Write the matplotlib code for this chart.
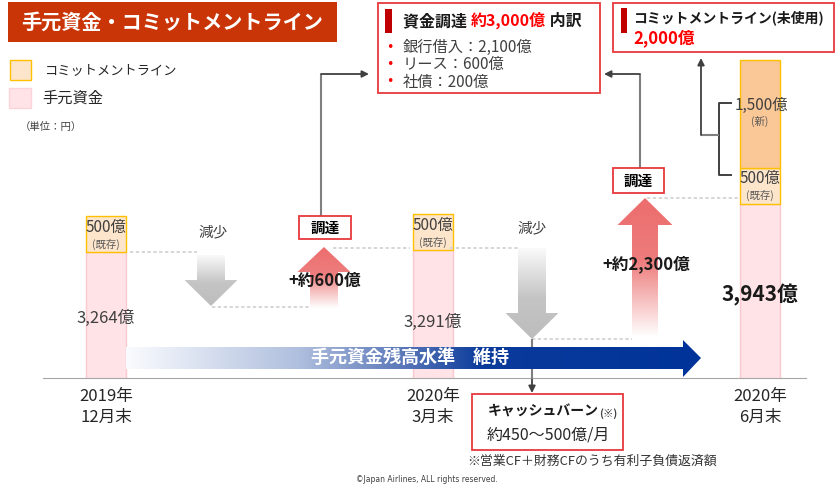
#!/usr/bin/env python3

import numpy as np
import matplotlib
matplotlib.use('Agg')
import matplotlib.pyplot as plt
from matplotlib.patches import Rectangle, Polygon
from matplotlib.colors import LinearSegmentedColormap

plt.rcParams['font.family'] = ['Noto Sans CJK JP', 'DejaVu Sans']

# ---- data (億円) ----
periods = ['2019年\n12月末', '2020年\n3月末', '2020年\n6月末']
cash = [3264, 3291, 3943]            # 手元資金
commit_existing = [500, 500, 500]    # コミットメントライン(既存)
commit_new = [0, 0, 1500]            # コミットメントライン(新)
raised = [600, 2300]                 # 調達
funding_items = ['銀行借入', 'リース', '社債']
funding_values = [2100, 600, 200]
funding_total = 3000
commit_unused = 2000
burn_range = [450, 500]

PINK = '#FFE3E7'
PINK_EDGE = '#FAC9D0'
PEACH = '#FDE5CC'
ORANGE = '#FAC796'
GOLD = '#FFC000'
RED = '#E8383D'
LINE = '#7F7F7F'

Y0 = 1520        # value that sits on the axis line (broken scale)
SCALE = 0.072    # pixels per 億


def gradient_shape(ax, pts, stops, colors, vertical=True, z=3):
    poly = Polygon(pts, closed=True, fc='none', ec='none')
    ax.add_patch(poly)
    xs = [p[0] for p in pts]
    ys = [p[1] for p in pts]
    cmap = LinearSegmentedColormap.from_list('g', list(zip(stops, colors)))
    g = np.linspace(0, 1, 256)
    img = g.reshape(-1, 1) if vertical else g.reshape(1, -1)
    im = ax.imshow(img, cmap=cmap, extent=(min(xs), max(xs), max(ys), min(ys)),
                   origin='upper', aspect='auto', interpolation='bicubic',
                   zorder=z)
    im.set_clip_path(poly)


def up_arrow(cx, tip, head_base, bottom, body_w, head_w):
    return [(cx, tip), (cx + head_w/2, head_base), (cx + body_w/2, head_base),
            (cx + body_w/2, bottom), (cx - body_w/2, bottom),
            (cx - body_w/2, head_base), (cx - head_w/2, head_base)]


def down_arrow(cx, top, head_base, tip, body_w, head_w):
    return [(cx - body_w/2, top), (cx + body_w/2, top), (cx + body_w/2, head_base),
            (cx + head_w/2, head_base), (cx, tip), (cx - head_w/2, head_base),
            (cx - body_w/2, head_base)]


def boxed(ax, x, y, w, h, ec=RED, lw=1.3):
    ax.add_patch(Rectangle((x, y), w, h, fc='white', ec=ec, lw=lw, zorder=4))


def arrow_line(ax, pts):
    xs = [p[0] for p in pts[:-1]]
    ys = [p[1] for p in pts[:-1]]
    ax.plot(xs, ys, color=LINE, lw=1.5, zorder=2, solid_capstyle='butt')
    ax.annotate('', xy=pts[-1], xytext=pts[-2],
                arrowprops=dict(arrowstyle='-|>', color='#404040', lw=1.3,
                                mutation_scale=10, shrinkA=0, shrinkB=0),
                zorder=2)


fig = plt.figure(figsize=(8.37, 4.84), dpi=100)

# ---- bars ----
bax = fig.add_axes([43/837, 106/484, 763/837, 378/484])
x = np.arange(len(periods))
w = 0.125
bax.bar(x, cash, w, color=PINK, edgecolor=PINK_EDGE, lw=1)
bax.bar(x, commit_existing, w, bottom=cash, color=PEACH, edgecolor=GOLD, lw=1)
new_idx = [i for i, v in enumerate(commit_new) if v > 0]
bax.bar(x[new_idx], [commit_new[i] for i in new_idx], w,
        bottom=[cash[i] + commit_existing[i] for i in new_idx],
        color=ORANGE, edgecolor=GOLD, lw=1)
bax.set_xlim(-63/327, 700/327)
bax.set_ylim(Y0, Y0 + 378/SCALE)
for s in ['top', 'left', 'right']:
    bax.spines[s].set_visible(False)
bax.spines['bottom'].set_color('#A6A6A6')
bax.set_yticks([])
bax.set_xticks(x)
bax.set_xticklabels(periods, fontsize=12, color='#262626', linespacing=1.35)
bax.tick_params(axis='x', length=0, pad=7)
bax.patch.set_visible(False)

for i in x:
    top = cash[i]
    mid = (Y0 + cash[i]) / 2
    if i == len(x) - 1:
        bax.annotate(f'{cash[i]:,}億', (i, mid), xytext=(0, -3),
                     textcoords='offset points', ha='center', va='center',
                     fontsize=15, fontweight='bold', color='#1A1A1A')
    else:
        bax.annotate(f'{cash[i]:,}億', (i, mid), xytext=(0, -2 - 4*i),
                     textcoords='offset points', ha='center', va='center',
                     fontsize=12, color='#404040')
    seg = top + commit_existing[i] / 2
    bax.annotate(f'{commit_existing[i]:,}億', (i, seg), xytext=(0, 5),
                 textcoords='offset points', ha='center', va='center',
                 fontsize=11, color='#404040')
    bax.annotate('(既存)', (i, seg), xytext=(0, -7),
                 textcoords='offset points', ha='center', va='center',
                 fontsize=7.5, color='#595959')
    if commit_new[i] > 0:
        seg = top + commit_existing[i] + commit_new[i] / 2
        bax.annotate(f'{commit_new[i]:,}億', (i, seg), xytext=(1, 6),
                     textcoords='offset points', ha='center', va='center',
                     fontsize=11, color='#404040')
        bax.annotate('(新)', (i, seg), xytext=(0, -6),
                     textcoords='offset points', ha='center', va='center',
                     fontsize=7.5, color='#595959')

# ---- overlay in pixel coordinates ----
ax = fig.add_axes([0, 0, 1, 1])
ax.patch.set_visible(False)
ax.axis('off')

# title
ax.add_patch(Rectangle((8, 2), 329, 40, fc='#CA3508', ec='none'))
ax.text(172, 22, '手元資金・コミットメントライン', color='white', fontsize=14.5,
        fontweight='bold', ha='center', va='center')

# legend
ax.add_patch(Rectangle((10, 60), 21, 20, fc=PEACH, ec=GOLD, lw=1))
ax.text(45, 71, 'コミットメントライン', fontsize=9.5, color='#262626', va='center')
ax.add_patch(Rectangle((9, 88), 22, 20, fc=PINK, ec='#FBD3D9', lw=1))
ax.text(42, 98, '手元資金', fontsize=11, color='#262626', va='center')
ax.text(20, 127, '（単位：円）', fontsize=7.5, color='#404040', va='center')

# dotted guide lines
guide = dict(color='#D0D0D0', lw=1.2, ls=(0, (2, 1.5)), zorder=1)
ax.plot([130, 197], [252, 252], **guide)
ax.plot([212, 312], [307, 307], **guide)
ax.plot([333, 410], [248, 248], **guide)
ax.plot([450, 518], [248, 248], **guide)
ax.plot([532, 632], [339, 339], **guide)
ax.plot([647, 740], [198, 198], **guide)

# blue trend arrow
blue = [(126, 347), (683, 347), (683, 340), (701, 358), (683, 377),
        (683, 369), (126, 369)]
gradient_shape(ax, blue, [0, 0.3, 0.48, 0.62, 1],
               ['#FAFBFE', '#AFBFDE', '#5B78B9', '#0B3B9B', '#003399'],
               vertical=False, z=3)
ax.text(410, 357, '手元資金残高水準　維持', color='white', fontsize=13,
        fontweight='bold', ha='center', va='center', zorder=5)

# gray decrease arrows
gray_stops = [0, 0.55, 1]
gray_cols = ['#FAFAFA', '#C4C4C4', '#BDBDBD']
gradient_shape(ax, down_arrow(211, 255, 280, 306, 28, 53), gray_stops, gray_cols)
gradient_shape(ax, down_arrow(532, 248, 313, 339, 28, 53), gray_stops, gray_cols)
ax.text(213, 232, '減少', fontsize=10.5, color='#404040', ha='center', va='center')
ax.text(532, 228, '減少', fontsize=10.5, color='#404040', ha='center', va='center')

# red raise arrows
gradient_shape(ax, up_arrow(324, 247, 272, 308, 28, 53), [0, 0.45, 1],
               ['#EC6D6D', '#EE7E7E', '#FFFFFF'])
gradient_shape(ax, up_arrow(645, 198, 225, 337, 26, 55), [0, 0.45, 1],
               ['#EC6D6D', '#EE7C7C', '#FFFFFF'])
ax.text(325, 281, f'+約{raised[0]:,}億', fontsize=12, fontweight='bold',
        color='#1A1A1A', ha='center', va='center', zorder=5)
ax.text(646, 264, f'+約{raised[1]:,}億', fontsize=12, fontweight='bold',
        color='#1A1A1A', ha='center', va='center', zorder=5)

# 調達 labels and connectors
boxed(ax, 299, 216, 52, 23)
ax.text(325, 227.5, '調達', fontsize=10.5, fontweight='bold', ha='center',
        va='center', zorder=5)
boxed(ax, 613, 168, 51, 25)
ax.text(638.5, 180.5, '調達', fontsize=10.5, fontweight='bold', ha='center',
        va='center', zorder=5)
arrow_line(ax, [(321, 216), (321, 74), (369, 74)])
arrow_line(ax, [(640, 168), (640, 74), (604, 74)])

# commitment bracket
ax.plot([731, 719, 719, 731], [103, 103, 175, 175], color='#404040', lw=1.4)
arrow_line(ax, [(719, 135), (701, 135), (701, 58)])

# cash burn
arrow_line(ax, [(532, 339), (532, 380), (532, 393)])
boxed(ax, 472, 394, 151, 56)
t = ax.text(488, 412, 'キャッシュバーン', fontsize=10, fontweight='bold',
            color='#1A1A1A', va='center', zorder=5)
ax.annotate('(※)', xy=(1, 0), xycoords=t, va='bottom', fontsize=7.5,
            fontweight='bold', color='#404040', zorder=5)
ax.text(548, 435, f'約{burn_range[0]}～{burn_range[1]}億/月', fontsize=11.5,
        color='#262626', ha='center', va='center', zorder=5)
ax.text(467, 461, '※営業CF＋財務CFのうち有利子負債返済額', fontsize=9.3,
        color='#333333', va='center')
ax.text(427, 479, '©Japan Airlines, ALL rights reserved.', fontsize=5.5,
        color='#404040', ha='center', va='center', family='DejaVu Sans')

# 資金調達 box
boxed(ax, 378, 3, 222, 90)
ax.add_patch(Rectangle((385, 9), 7, 24, fc='#C00000', ec='none', zorder=5))
t1 = ax.text(403, 21, '資金調達 ', fontsize=11.5, fontweight='bold',
             color='#1A1A1A', va='center', zorder=5)
t2 = ax.annotate(f'約{funding_total:,}億', xy=(1, 0), xycoords=t1, va='bottom',
                 fontsize=11.5, fontweight='bold', color='#FF0000', zorder=5)
ax.annotate(' 内訳', xy=(1, 0), xycoords=t2, va='bottom', fontsize=11.5,
            fontweight='bold', color='#1A1A1A', zorder=5)
for k, (name, val) in enumerate(zip(funding_items, funding_values)):
    yy = 47 + 17.5 * k
    ax.text(390, yy, '•', color='#FF0000', fontsize=9, ha='center',
            va='center', zorder=5, family='DejaVu Sans')
    ax.text(403, yy, f'{name}：{val:,}億', fontsize=11, color='#404040',
            va='center', zorder=5)

# コミットメントライン box
boxed(ax, 613, 3, 221, 49)
ax.add_patch(Rectangle((621, 8), 6, 25, fc='#C00000', ec='none', zorder=5))
ax.text(633, 18, 'コミットメントライン(未使用)', fontsize=10, fontweight='bold',
        color='#1A1A1A', va='center', zorder=5)
ax.text(633, 38, f'{commit_unused:,}億', fontsize=12, fontweight='bold',
        color='#FF0000', va='center', zorder=5)

ax.set_xlim(0, 837)
ax.set_ylim(484, 0)

fig.savefig('out.png', dpi=100)
